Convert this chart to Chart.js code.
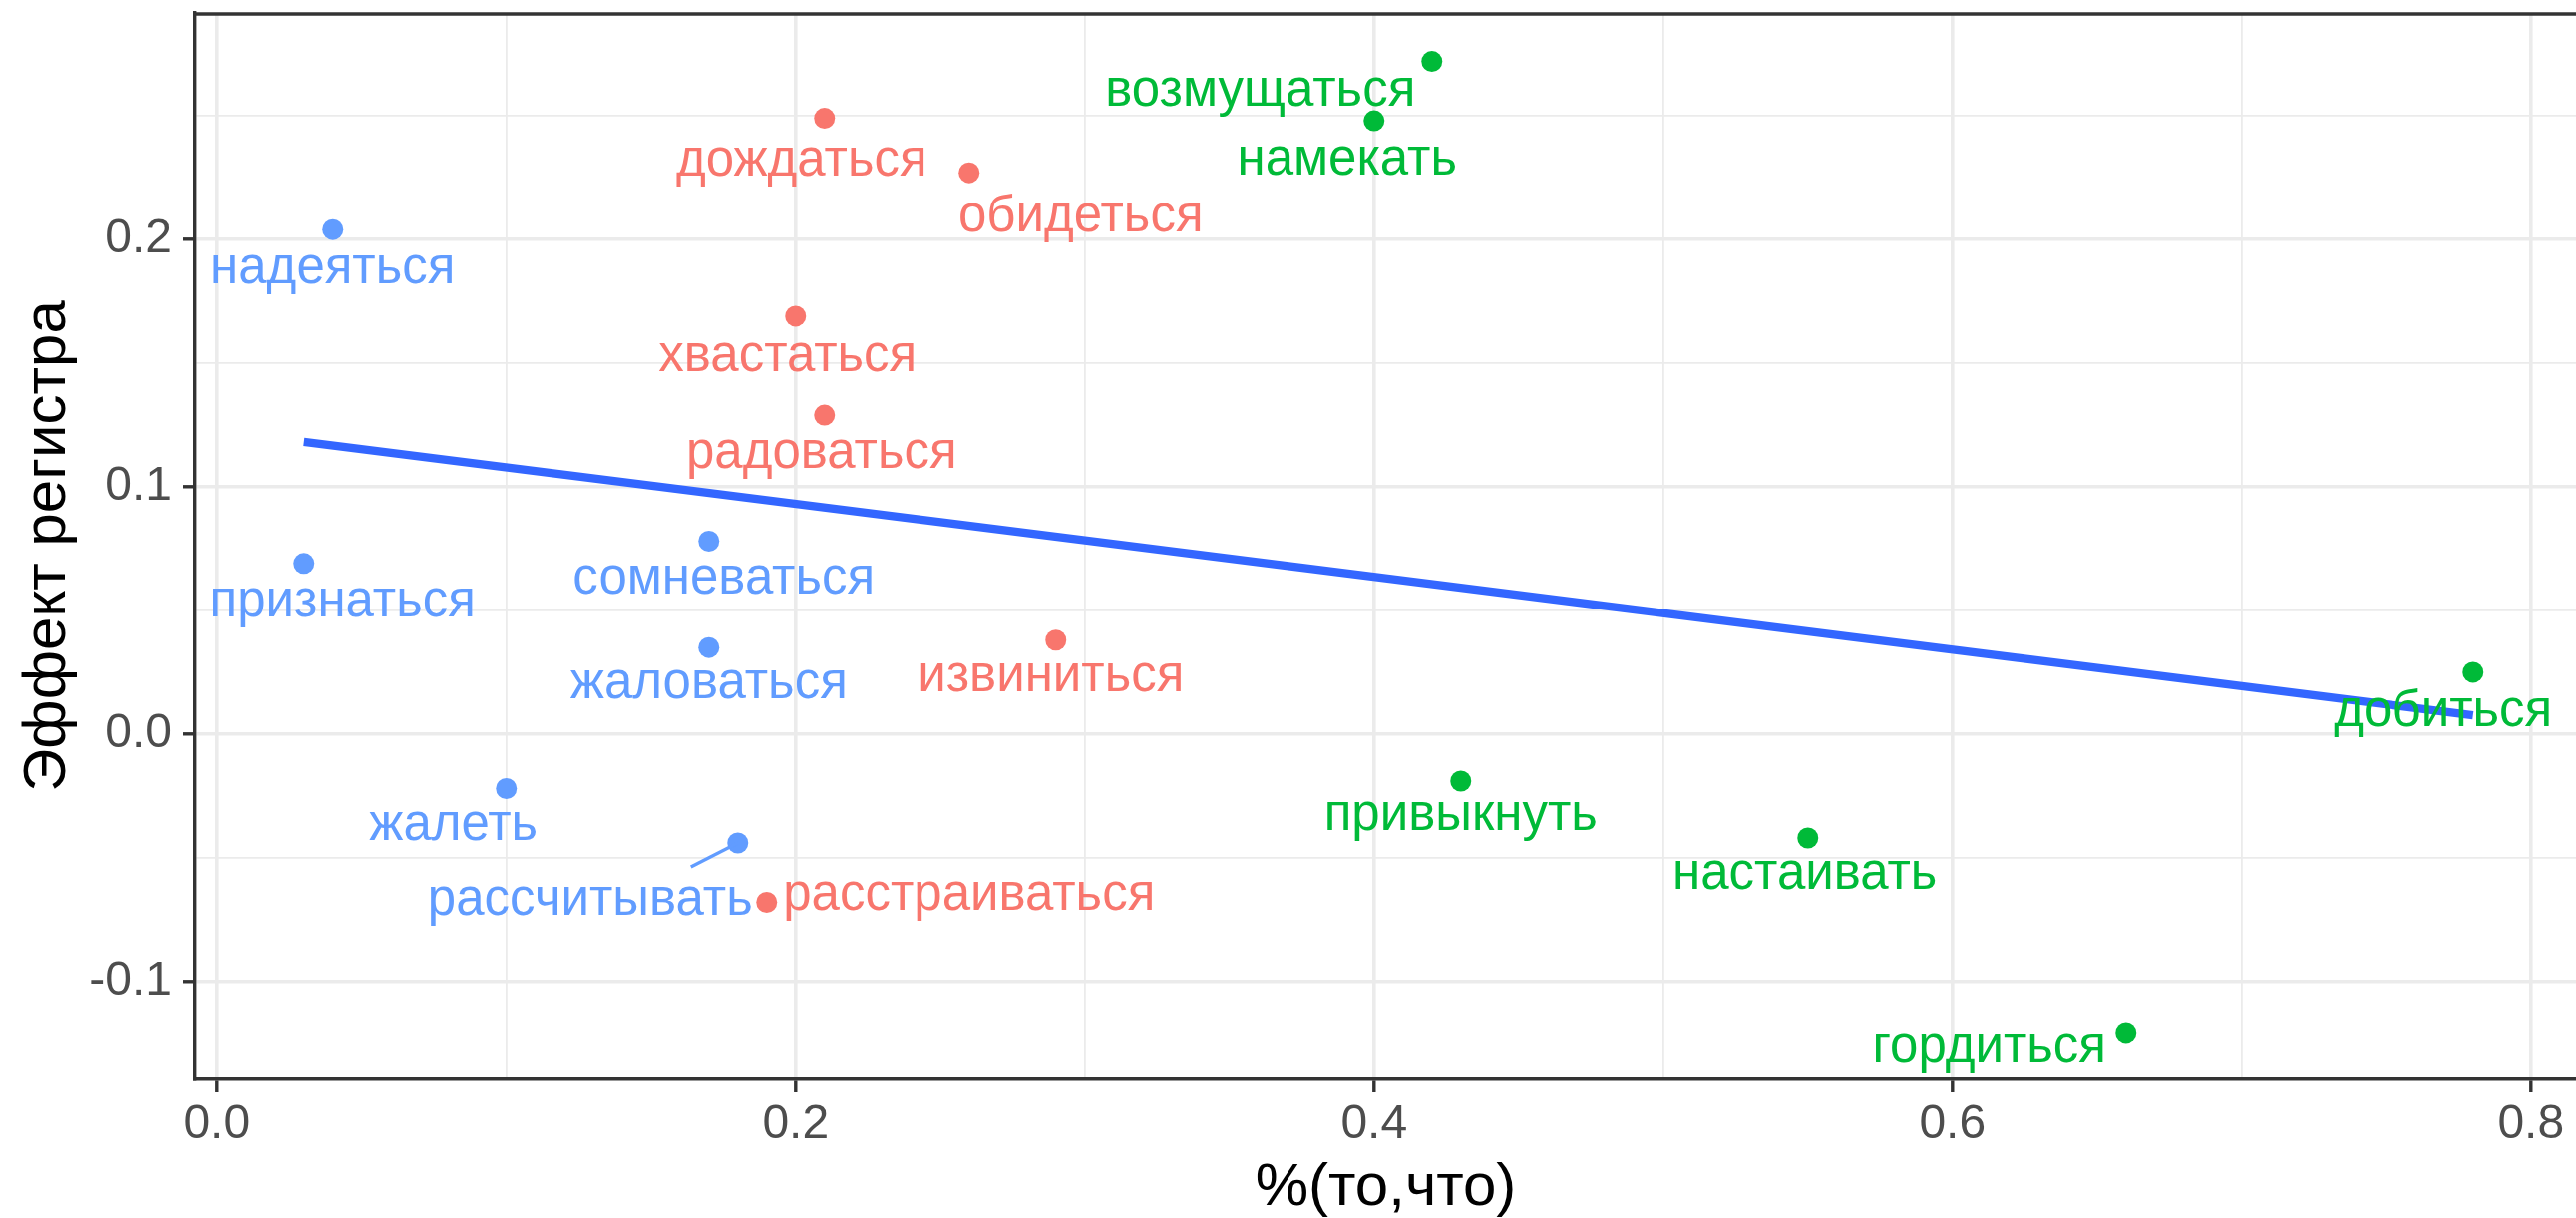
<!DOCTYPE html>
<html>
<head>
<meta charset="utf-8">
<script src="https://cdn.jsdelivr.net/npm/chart.js@4/dist/chart.umd.min.js"></script>
<style>
  html,body{margin:0;padding:0;background:#fff;overflow:hidden;}
  #plot{display:block;}
</style>
</head>
<body>
<canvas id="plot" width="2583" height="1221"></canvas>
<script>
// verbs, share of "то, что" and register effect
const WORDS=['надеяться','признаться','жалеть','сомневаться','жаловаться','рассчитывать',
  'расстраиваться','дождаться','обидеться','хвастаться','радоваться','извиниться',
  'возмущаться','намекать','привыкнуть','настаивать','гордиться','добиться'];
const PCT_TO_CHTO=[0.04,0.03,0.10,0.17,0.17,0.18, 0.19,0.21,0.26,0.20,0.21,0.29, 0.42,0.40,0.43,0.55,0.66,0.78];
const REG_EFFECT=[0.204,0.069,-0.022,0.078,0.035,-0.044, -0.068,0.249,0.227,0.169,0.129,0.038, 0.272,0.248,-0.019,-0.042,-0.121,0.025];
const GROUP=[2,2,2,2,2,2, 0,0,0,0,0,0, 1,1,1,1,1,1];
const GROUP_COLORS=['#F8766D','#00BA38','#619CFF'];

const X_MAJOR=[0,0.2,0.4,0.6,0.8], X_MINOR=[0.1,0.3,0.5,0.7];
const Y_MAJOR=[-0.1,0,0.1,0.2], Y_MINOR=[-0.05,0.05,0.15,0.25];

// where ggrepel put each label, px from its point (text centre, baseline)
const LABEL_POS=[
  {dx:0,dy:54},{dx:39,dy:53},{dx:-53,dy:52},{dx:15,dy:52},{dx:0,dy:51},{dx:-148,dy:72,seg:[-47,24]},
  {dx:203,dy:8},{dx:-23,dy:57},{dx:112,dy:59},{dx:-8,dy:55},{dx:-3,dy:53},{dx:-5,dy:51},
  {dx:-172,dy:44},{dx:-27,dy:54},{dx:0,dy:49},{dx:-3,dy:51},{dx:-137,dy:29},{dx:-30,dy:54}
];

const FONT='"Liberation Sans", Arial, Helvetica, sans-serif';
Chart.defaults.font.family=FONT;

function lmFit(xs,ys){
  const n=xs.length;
  const mx=xs.reduce((a,v)=>a+v,0)/n, my=ys.reduce((a,v)=>a+v,0)/n;
  let sxy=0,sxx=0;
  for(let i=0;i<n;i++){sxy+=(xs[i]-mx)*(ys[i]-my);sxx+=(xs[i]-mx)*(xs[i]-mx);}
  const b=sxy/sxx;
  return {a:my-b*mx,b};
}
const fit=lmFit(PCT_TO_CHTO,REG_EFFECT);
const xLo=Math.min(...PCT_TO_CHTO), xHi=Math.max(...PCT_TO_CHTO);

const groupSets=GROUP_COLORS.map((col,g)=>({
  type:'scatter',
  data:PCT_TO_CHTO.map((x,i)=>({x,y:REG_EFFECT[i]})).filter((p,i)=>GROUP[i]===g),
  backgroundColor:col,borderWidth:0,pointRadius:10.5,order:2
}));

const setTicks=(major,minor)=>s=>{
  s.ticks=major.map(v=>({value:v,isMajor:true})).concat(minor.map(v=>({value:v,isMajor:false})))
    .sort((a,b)=>a.value-b.value);
};
const fixBox=(w,h)=>s=>{
  if(w!=null)s.width=w;
  if(h!=null)s.height=h;
  s.paddingTop=0;s.paddingBottom=0;s.paddingLeft=0;s.paddingRight=0;
};
const gridOpts={
  color:'#EBEBEB',
  lineWidth:c=>c.tick&&c.tick.isMajor?3.6:1.8,
  tickLength:13,
  tickWidth:3.4,
  tickColor:c=>c.tick&&c.tick.isMajor?'#333333':'rgba(0,0,0,0)'
};
const tickLbl=(v,i,t)=>t[i].isMajor?v.toFixed(1):'';

const panelBorder={id:'panelBorder',afterDraw(chart){
  const {ctx,chartArea:a}=chart;
  ctx.save();ctx.strokeStyle='#333333';ctx.lineWidth=3.4;
  ctx.beginPath();ctx.moveTo(a.left-1.7,a.top+1);ctx.lineTo(a.right+10,a.top+1);ctx.stroke();
  ctx.restore();
}};

const wordLabels={id:'wordLabels',afterDatasetsDraw(chart){
  const ctx=chart.ctx, xs=chart.scales.x, ys=chart.scales.y;
  ctx.save();
  ctx.font='51px '+FONT;ctx.textAlign='center';ctx.textBaseline='alphabetic';
  WORDS.forEach((w,i)=>{
    const px=xs.getPixelForValue(PCT_TO_CHTO[i]), py=ys.getPixelForValue(REG_EFFECT[i]);
    const o=LABEL_POS[i], col=GROUP_COLORS[GROUP[i]];
    if(o.seg){
      ctx.strokeStyle=col;ctx.lineWidth=3.2;
      ctx.beginPath();ctx.moveTo(px,py);ctx.lineTo(px+o.seg[0],py+o.seg[1]);ctx.stroke();
    }
    ctx.fillStyle=col;
    ctx.fillText(w,px+o.dx,py+o.dy);
  });
  ctx.restore();
}};

new Chart(document.getElementById('plot').getContext('2d'),{
  data:{datasets:[
    ...groupSets,
    {type:'line',data:[{x:xLo,y:fit.a+fit.b*xLo},{x:xHi,y:fit.a+fit.b*xHi}],
      borderColor:'#3366FF',borderWidth:8.5,pointRadius:0,fill:false,order:1}
  ]},
  options:{
    responsive:false,animation:false,devicePixelRatio:1,
    layout:{autoPadding:false,padding:{top:13,left:0,right:0,bottom:0}},
    plugins:{legend:{display:false},tooltip:{enabled:false}},
    scales:{
      x:{type:'linear',position:'bottom',min:-0.0075,max:0.8156,
        afterFit:fixBox(null,139),afterBuildTicks:setTicks(X_MAJOR,X_MINOR),
        grid:gridOpts,border:{display:true,color:'#333333',width:3.4},
        ticks:{callback:tickLbl,color:'#4D4D4D',font:{size:48},padding:4,maxRotation:0,autoSkip:false},
        title:{display:true,text:'%(то,что)',color:'#000',font:{size:60,lineHeight:1},padding:{top:0,bottom:0}}},
      y:{type:'linear',min:-0.1396,max:0.2916,
        afterFit:fixBox(196,null),afterBuildTicks:setTicks(Y_MAJOR,Y_MINOR),
        grid:gridOpts,border:{display:true,color:'#333333',width:3.4},
        ticks:{callback:tickLbl,color:'#4D4D4D',font:{size:48},padding:11,autoSkip:false},
        title:{display:true,text:'Эффект регистра',color:'#000',font:{size:60,lineHeight:1},padding:{top:18,bottom:0}}}
    }
  },
  plugins:[panelBorder,wordLabels]
});
</script>
</body>
</html>
